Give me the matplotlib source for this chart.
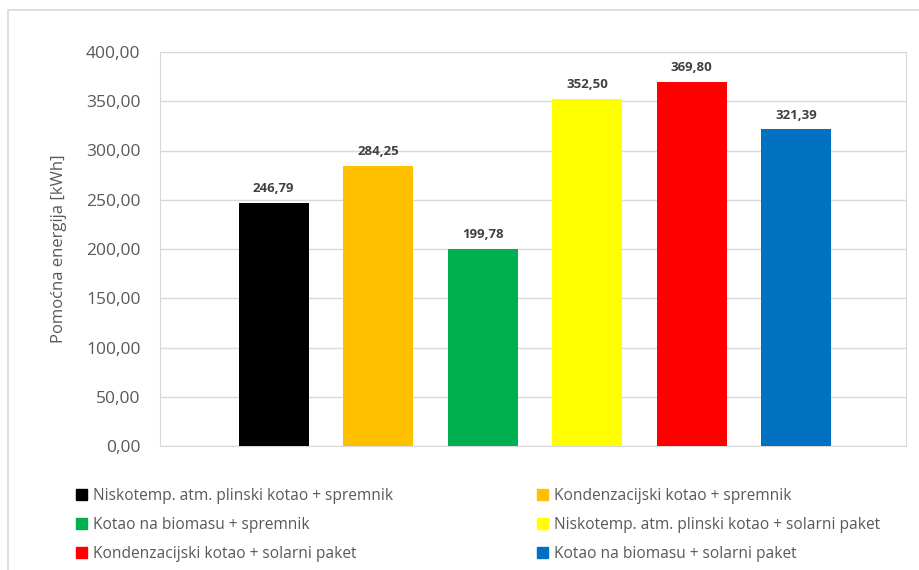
import matplotlib.pyplot as plt
from matplotlib.patches import Rectangle
import numpy as np

plt.rcParams['font.family'] = ['Open Sans', 'DejaVu Sans']

# data
labels = ['Niskotemp. atm. plinski kotao + spremnik',
          'Kondenzacijski kotao + spremnik',
          'Kotao na biomasu + spremnik',
          'Niskotemp. atm. plinski kotao + solarni paket',
          'Kondenzacijski kotao + solarni paket',
          'Kotao na biomasu + solarni paket']
values = [246.79, 284.25, 199.78, 352.50, 369.80, 321.39]
colors = ['#000000', '#FFC000', '#00B050', '#FFFF00', '#FF0000', '#0070C0']
yticks = [0, 50, 100, 150, 200, 250, 300, 350, 400]

W, H = 919, 570
fig = plt.figure(figsize=(W/100, H/100), dpi=100)

# outer chart border (bottom/right run off the picture)
fig.add_artist(Rectangle((8/W, -0.05), 1.2, (H-10)/H + 0.05, transform=fig.transFigure,
                         fill=False, edgecolor='#d9d9d9', lw=1.2))

ax = fig.add_axes([160/W, 1-446/H, (906-160)/W, (446-52)/H])

x = np.arange(len(values))
bars = ax.bar(x, values, width=0.67, color=colors, zorder=3)
for xi, v in zip(x, values):
    ax.text(xi, v + 8, f'{v:.2f}'.replace('.', ','), ha='center', va='bottom',
            fontsize=9.5, fontweight='bold', color='#404040')

ax.set_xlim(-1.086, 6.05)
ax.set_ylim(0, 400)
ax.set_yticks(yticks)
ax.set_yticklabels([f'{t:.2f}'.replace('.', ',') for t in yticks], fontsize=12.5, color='#595959')
ax.set_xticks([])
ax.tick_params(axis='y', length=0, pad=14)
ax.grid(axis='y', color='#d9d9d9', lw=1, zorder=0)
for s in ax.spines.values():
    s.set_color('#d9d9d9')
ax.set_ylabel('Pomoćna energija [kWh]', fontsize=12, color='#595959', labelpad=14)

# legend is filled row by row in the original, matplotlib fills by column
order = [0, 2, 4, 1, 3, 5]
handles = [Rectangle((0, 0), 1, 1, color=colors[i]) for i in order]
fig.legend(handles, [labels[i] for i in order], loc='upper left',
           bbox_to_anchor=(62/W, 1-474/H),
           ncol=2, frameon=False, fontsize=11.2, labelcolor='#595959',
           handlelength=0.7, handleheight=0.7, handletextpad=0.4,
           columnspacing=9.25, labelspacing=0.82)

fig.savefig('out.png', dpi=100)
